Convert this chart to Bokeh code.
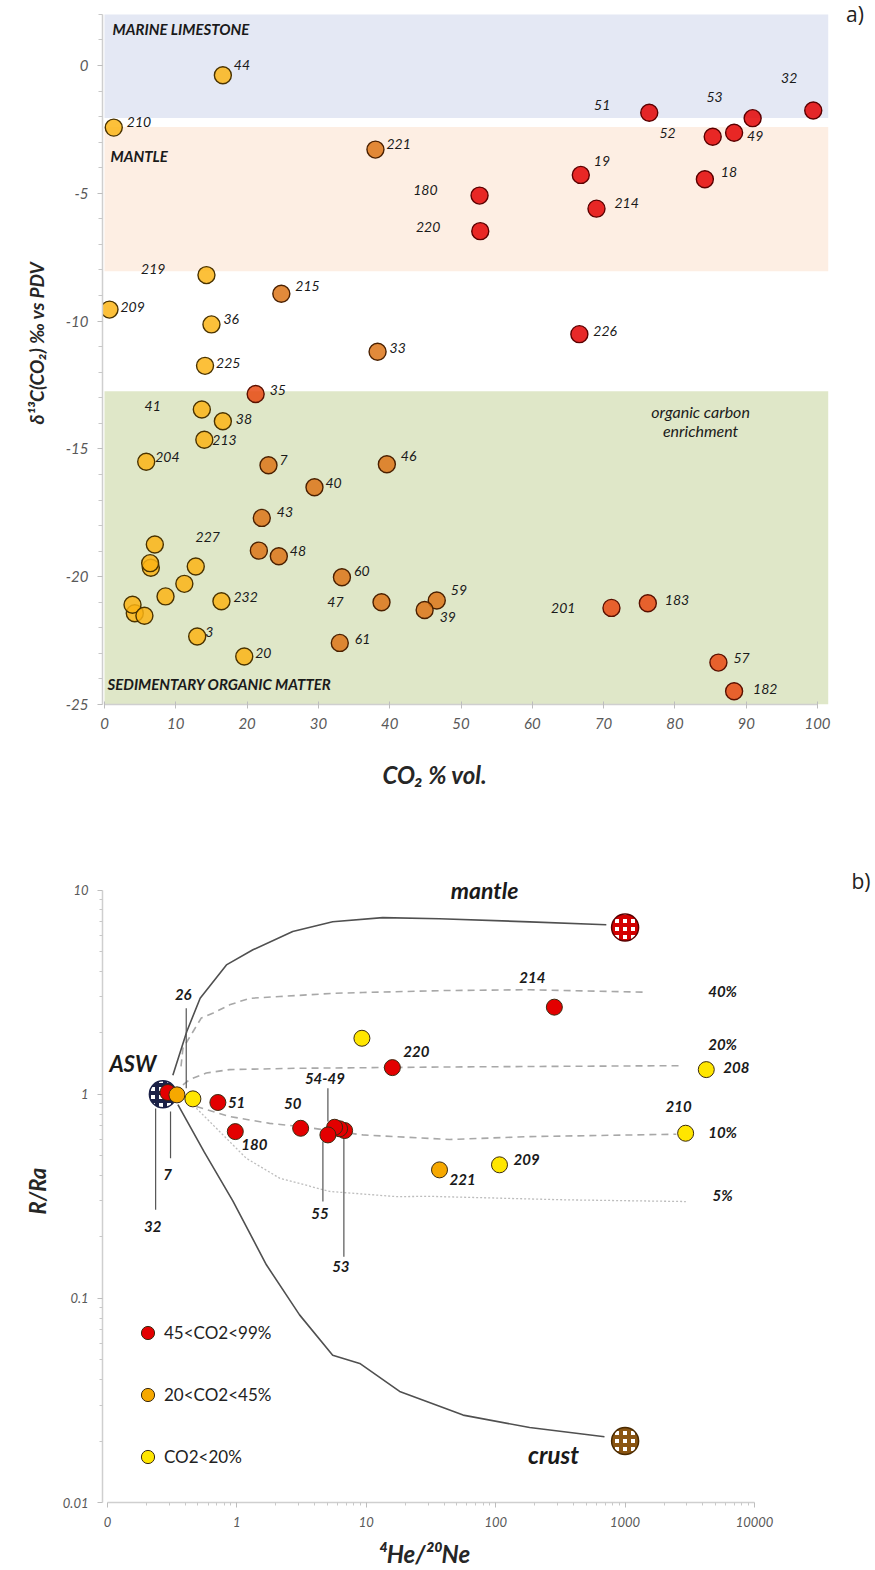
import numpy as np
from bokeh.plotting import figure
from bokeh.layouts import column
from bokeh.models import (ColumnDataSource, Label, FixedTicker, Legend, LegendItem,
                          Range1d, CustomJSTickFormatter, Title)
from bokeh.core.properties import value, field
from bokeh.embed import file_html
from bokeh.resources import INLINE

FONT = "Lato"
NB = "\u00a0"

# ======================= (a) data: d13C vs CO2 =======================
a_ids = ["44", "210", "221", "219", "215", "209", "36", "33", "225",
         "180", "220", "51", "53", "52", "49", "32", "19", "18", "214", "226",
         "35", "41", "38", "213", "204", "7", "46", "40", "43",
         "", "", "", "227", "", "", "", "", "",
         "", "48", "232", "60", "47", "3", "61", "20", "59", "39",
         "201", "183", "57", "182"]
a_co2 = [16.6, 1.3, 38.0, 14.3, 24.8, 0.7, 15.0, 38.3, 14.1,
         52.6, 52.7, 76.4, 90.9, 85.3, 88.3, 99.4, 66.8, 84.2, 69.0, 66.6,
         21.2, 13.65, 16.6, 14.0, 5.85, 23.0, 39.6, 29.45, 22.06,
         7.06, 6.5, 6.4, 12.8, 11.2, 8.56, 4.25, 3.93, 5.6,
         21.65, 24.45, 16.4, 33.3, 38.85, 13.0, 33.0, 19.6, 46.6, 44.9,
         71.1, 76.2, 86.1, 88.3]
a_d13c = [-0.38, -2.43, -3.29, -8.2, -8.93, -9.55, -10.13, -11.2, -11.75,
          -5.09, -6.48, -1.85, -2.06, -2.79, -2.63, -1.76, -4.28, -4.45, -5.6, -10.51,
          -12.85, -13.46, -13.92, -14.64, -15.5, -15.64, -15.6, -16.5, -17.7,
          -18.74, -19.65, -19.47, -19.6, -20.28, -20.77, -21.43, -21.1, -21.53,
          -18.98, -19.2, -20.96, -20.02, -21.0, -22.34, -22.59, -23.12, -20.93, -21.3,
          -21.22, -21.04, -23.36, -24.48]
a_cls = ["y", "y", "o", "y", "o", "y", "y", "o", "y",
         "r", "r", "r", "r", "r", "r", "r", "r", "r", "r", "r",
         "ro", "y", "y", "y", "y", "o", "o", "o", "o",
         "y", "y", "y", "y", "y", "y", "y", "y", "y",
         "o", "o", "y", "o", "o", "y", "o", "y", "o", "o",
         "ro", "ro", "ro", "ro"]

band_names = ["MARINE LIMESTONE", "MANTLE", "SEDIMENTARY ORGANIC MATTER"]
band_bottom = [-2.05, -8.05, -25.0]
band_top = [2.0, -2.41, -12.74]

a_xticks = [0, 10, 20, 30, 40, 50, 60, 70, 80, 90, 100]
a_yticks = [-25, -20, -15, -10, -5, 0]

# ======================= (b) data: R/Ra vs 4He/20Ne =======================
b_ids = ["32", "7", "26", "51", "180", "50", "53", "49", "54", "55",
         "", "220", "221", "209", "214", "210", "208"]
b_hene = [0.293, 0.344, 0.457, 0.713, 0.972, 3.11, 6.8, 6.22, 5.69, 5.05,
          9.25, 15.9, 36.8, 107, 284, 2937, 4240]
b_rra = [1.02, 0.993, 0.949, 0.911, 0.656, 0.681, 0.664, 0.677, 0.689, 0.632,
         1.88, 1.35, 0.426, 0.451, 2.67, 0.644, 1.32]
b_cls = ["r", "o", "y", "r", "r", "r", "r", "r", "r", "r",
         "y", "r", "o", "y", "r", "y", "y"]
class_labels = {"r": "45<CO2<99%", "o": "20<CO2<45%", "y": "CO2<20%"}

end_names = ["ASW", "mantle", "crust"]
end_hene = [0.268, 1000, 1000]
end_rra = [1.0, 6.56, 0.02]

mantle_x = [0.32, 0.41, 0.52, 0.83, 1.33, 2.7, 5.5, 13.4, 36.8, 183, 716]
mantle_y = [1.24, 2.03, 2.95, 4.3, 5.1, 6.27, 7.0, 7.33, 7.24, 6.99, 6.76]
crust_x = [0.35, 0.56, 0.93, 1.69, 3.05, 5.5, 8.9, 18.1, 36.8, 56, 183, 693]
crust_y = [0.89, 0.52, 0.30, 0.146, 0.083, 0.0527, 0.048, 0.035, 0.0296, 0.0268, 0.0233, 0.021]
mix40_x = [0.37, 0.383, 0.53, 0.65, 0.878, 1.25, 2.14, 5.5, 9.4, 40, 183, 1450]
mix40_y = [1.37, 1.68, 2.36, 2.49, 2.74, 2.95, 3.01, 3.12, 3.15, 3.22, 3.25, 3.16]
mix20_x = [0.383, 0.431, 0.58, 0.878, 2.88, 44, 2640]
mix20_y = [1.11, 1.18, 1.27, 1.32, 1.34, 1.36, 1.38]
mix10_x = [0.486, 0.878, 1.79, 3.05, 9.4, 44, 183, 2490]
mix10_y = [0.87, 0.778, 0.72, 0.695, 0.632, 0.6, 0.62, 0.637]
mix5_x = [0.486, 0.735, 1.18, 2.14, 5.2, 17.1, 30.9, 330, 2950]
mix5_y = [0.854, 0.657, 0.486, 0.388, 0.334, 0.315, 0.316, 0.304, 0.298]
mix_labels = ["40%", "20%", "10%", "5%"]
mix_label_y = [3.19, 1.758, 0.652, 0.321]

callout_ids = ["26", "7", "32", "54-49", "55", "53"]
callout_x = [0.406, 0.307, 0.2355, 5.05, 4.62, 6.71]
callout_y_top = [2.64, 0.823, 0.851, 1.07, 0.586, 0.621]
callout_y_bot = [1.07, 0.486, 0.2715, 0.735, 0.298, 0.160]
callout_label_y = [3.07, 0.406, 0.225, 1.198, 0.261, 0.143]

b_xticks = [0.1, 1, 10, 100, 1000, 10000]
b_yticks = [0.01, 0.1, 1, 10]

# ======================= styles / label placement =======================
A_FILL = {"y": "#fbb414", "o": "#dc7415", "r": "#e30000", "ro": "#e8470f"}
A_LINE = {"y": "#4a3300", "o": "#4a2000", "r": "#5a0000", "ro": "#5a1000"}
B_FILL = {"r": "#e30000", "o": "#f6a800", "y": "#ffe600"}
BAND_COLORS = ["#e4e8f4", "#fdeee3", "#dfe7c8"]

A_LABEL_POS = {
    "44": ("left", 11, -10), "210": ("left", 13, -6), "221": ("left", 11, -6),
    "219": ("right", -41, -6), "215": ("left", 14, -8), "209": ("left", 11, -3),
    "36": ("left", 12, -5), "33": ("left", 12, -4), "225": ("left", 11, -3),
    "180": ("right", -42, -6), "220": ("right", -40, -4), "51": ("right", -39, -8),
    "53": ("right", -30, -21), "52": ("right", -37, -4), "49": ("left", 13, 3),
    "32": ("right", -16, -32), "19": ("left", 13, -14), "18": ("left", 16, -7),
    "214": ("left", 18, -6), "226": ("left", 14, -3), "35": ("left", 14, -4),
    "41": ("right", -41, -4), "38": ("left", 13, -2), "213": ("left", 8, 0),
    "204": ("left", 9, -5), "7": ("left", 11, -5), "46": ("left", 14, -8),
    "40": ("left", 11, -4), "43": ("left", 15, -6), "227": ("center", 12, -29),
    "48": ("left", 11, -5), "232": ("left", 12, -4), "60": ("left", 12, -6),
    "47": ("right", -38, 0), "3": ("left", 8, -5), "61": ("left", 15, -4),
    "20": ("left", 11, -3), "59": ("left", 14, -10), "39": ("left", 15, 7),
    "201": ("right", -36, 0), "183": ("left", 17, -3), "57": ("left", 15, -5),
    "182": ("left", 19, -2),
}
B_LABEL_POS = {
    "51": ("left", 10, 0), "180": ("left", 6, 13), "50": ("center", -8, -25),
    "220": ("left", 11, -16), "221": ("left", 10, 10), "209": ("left", 14, -5),
    "214": ("center", -22, -30), "210": ("center", -7, -27), "208": ("left", 17, -2),
}

W = 872


def style_axis(ax, size):
    ax.axis_line_color = "#cfcfcf"
    ax.axis_line_width = 1.5
    ax.major_tick_line_color = "#bdbdbd"
    ax.minor_tick_line_color = "#c8c8c8"
    ax.major_label_text_font = FONT
    ax.major_label_text_font_style = "italic"
    ax.major_label_text_font_size = size
    ax.major_label_text_color = "#595959"
    ax.axis_label_text_font = FONT
    ax.axis_label_text_font_style = "bold italic"
    ax.axis_label_text_font_size = "24px"
    ax.axis_label_text_color = "#262626"


def side_title(text, size, offset, standoff):
    return Title(text=text, align="left", offset=offset, standoff=standoff,
                 text_font=FONT, text_font_style="bold italic", text_font_size=size,
                 text_color="#262626")


# ======================= figure (a) =======================
p1 = figure(width=W, height=808, x_range=Range1d(-0.28, 107.71), y_range=Range1d(-25, 2.543),
            output_backend="svg", toolbar_location=None, title=None,
            min_border_left=102, min_border_right=0, min_border_top=0, min_border_bottom=104)
p1.xgrid.visible = False
p1.ygrid.visible = False
p1.outline_line_color = None

p1.quad(left=0, right=101.5, bottom=band_bottom, top=band_top,
        fill_color=BAND_COLORS, line_color=None)

band_label_pos = [(1.12, 1.41), (0.84, -3.56), (0.42, -24.18)]
for name, (bx, by) in zip(band_names, band_label_pos):
    p1.add_layout(Label(x=bx, y=by, text=name, text_font=FONT, text_font_style="bold italic",
                        text_font_size="15px", text_color="#1a1a1a", text_baseline="middle"))
for t, ty in [("organic carbon", -13.54), ("enrichment", -14.28)]:
    p1.add_layout(Label(x=83.6, y=ty, text=t, text_font=FONT, text_font_style="italic",
                        text_font_size="16px", text_color="#1a1a1a", text_align="center",
                        text_baseline="middle"))

srcA = ColumnDataSource(dict(x=a_co2, y=a_d13c,
                             fill=[A_FILL[c] for c in a_cls],
                             line=[A_LINE[c] for c in a_cls]))
p1.scatter("x", "y", source=srcA, size=17, fill_color="fill", line_color="line",
           line_width=1.4, fill_alpha=0.84)

la = [(i, x, y) for i, x, y in zip(a_ids, a_co2, a_d13c) if i]
srcAL = ColumnDataSource(dict(
    x=[v[1] for v in la], y=[v[2] for v in la], text=[v[0] for v in la],
    align=[A_LABEL_POS[v[0]][0] for v in la],
    dx=[A_LABEL_POS[v[0]][1] for v in la],
    dy=[A_LABEL_POS[v[0]][2] for v in la]))
p1.text(x="x", y="y", text="text", source=srcAL, x_offset="dx", y_offset="dy",
        text_align=field("align"), text_baseline="middle", text_font=value(FONT),
        text_font_style="italic", text_font_size="14px", text_color="#1a1a1a")

p1.add_layout(Label(x=104.0, y=1.45, text="a)", text_font="Open Sans",
                    text_font_size="21px", text_color="#222222"))

p1.xaxis.ticker = FixedTicker(ticks=a_xticks)
p1.yaxis.ticker = FixedTicker(ticks=a_yticks,
                              minor_ticks=[t for t in range(-25, 3) if t % 5 != 0])
p1.xaxis.formatter = CustomJSTickFormatter(code="return String(tick);")
p1.yaxis.formatter = CustomJSTickFormatter(code="return String(tick);")
p1.xaxis.bounds = (0, 100)
p1.yaxis.bounds = (-25, 2)
style_axis(p1.xaxis[0], "15px")
style_axis(p1.yaxis[0], "15px")
p1.xaxis.major_tick_in = 3
p1.xaxis.major_tick_out = 4
p1.xaxis.minor_tick_out = 0
p1.xaxis.minor_tick_in = 0
p1.xaxis.major_label_standoff = 9
p1.yaxis.major_tick_in = 0
p1.yaxis.major_tick_out = 5
p1.yaxis.minor_tick_out = 4
p1.yaxis.minor_tick_in = 0
p1.yaxis.major_label_standoff = 9
p1.xaxis.axis_label = "CO₂ % vol." + NB * 20
p1.xaxis.axis_label_standoff = 28
p1.add_layout(side_title("δ¹³C(CO₂) ‰ vs PDV", "19px", 280, 30), "left")

# ======================= figure (b) =======================
p2 = figure(width=W, height=762, x_axis_type="log", y_axis_type="log",
            x_range=Range1d(0.0915, 81650), y_range=Range1d(0.01, 25.1),
            output_backend="svg", toolbar_location=None, title=None,
            min_border_left=102, min_border_right=0, min_border_top=0, min_border_bottom=68)
p2.xgrid.visible = False
p2.ygrid.visible = False
p2.outline_line_color = None

p2.line(mix5_x, mix5_y, line_color="#bdbdbd", line_width=1.3, line_dash="2 2")
for mx, my in [(mix40_x, mix40_y), (mix20_x, mix20_y), (mix10_x, mix10_y)]:
    p2.line(mx, my, line_color="#a8a8a8", line_width=1.6, line_dash="7 5")
p2.line(mantle_x, mantle_y, line_color="#505050", line_width=1.6)
p2.line(crust_x, crust_y, line_color="#505050", line_width=1.6)

p2.segment(x0=callout_x, y0=callout_y_top, x1=callout_x, y1=callout_y_bot,
           line_color="#555555", line_width=1.2)

srcE = ColumnDataSource(dict(x=end_hene, y=end_rra,
                             line=["#1b2147", "#5a0000", "#4a2a00"],
                             hatch=["#1b2147", "#d40000", "#8a5512"]))
p2.scatter("x", "y", source=srcE, size=27, fill_color="white", line_color="line",
           line_width=1.5, hatch_pattern="+", hatch_color="hatch", hatch_scale=8,
           hatch_weight=4)

rend = {}
for c in ["r", "o", "y"]:
    idx = [i for i, k in enumerate(b_cls) if k == c]
    src = ColumnDataSource(dict(x=[b_hene[i] for i in idx], y=[b_rra[i] for i in idx]))
    rend[c] = p2.scatter("x", "y", source=src, size=16, fill_color=B_FILL[c],
                         line_color="#3a2a10", line_width=1)

lb = [(i, x, y) for i, x, y in zip(b_ids, b_hene, b_rra) if i in B_LABEL_POS]
srcBL = ColumnDataSource(dict(
    x=[v[1] for v in lb], y=[v[2] for v in lb], text=[v[0] for v in lb],
    align=[B_LABEL_POS[v[0]][0] for v in lb],
    dx=[B_LABEL_POS[v[0]][1] for v in lb],
    dy=[B_LABEL_POS[v[0]][2] for v in lb]))
BTXT = dict(text_font=value(FONT), text_font_style="bold italic", text_font_size="15px",
            text_color="#1a1a1a", text_baseline="middle")
p2.text(x="x", y="y", text="text", source=srcBL, x_offset="dx", y_offset="dy",
        text_align=field("align"), **BTXT)
p2.text(x=callout_x, y=callout_label_y, text=callout_ids, x_offset=-3,
        text_align="center", **BTXT)

for t, ty in zip(mix_labels, mix_label_y):
    p2.add_layout(Label(x=5670, y=ty, text=t, text_font=FONT, text_font_style="bold italic",
                        text_font_size="15px", text_color="#1a1a1a", text_align="center",
                        text_baseline="middle"))
end_label_pos = {"ASW": (0.157, 1.42, "22px"), "mantle": (82, 10.03, "23px"),
                 "crust": (280, 0.0172, "24px")}
for n in end_names:
    lx, ly, fs = end_label_pos[n]
    p2.add_layout(Label(x=lx, y=ly, text=n, text_font=FONT, text_font_style="bold italic",
                        text_font_size=fs, text_color="#1a1a1a", text_align="center",
                        text_baseline="middle"))
p2.add_layout(Label(x=56200, y=9.5, text="b)", text_font="Open Sans",
                    text_font_size="21px", text_color="#222222"))

leg = Legend(items=[LegendItem(label=class_labels[c], renderers=[rend[c]]) for c in ["r", "o", "y"]],
             location=(29, 29), orientation="vertical", padding=0, margin=0, spacing=29,
             glyph_width=33, glyph_height=33, label_standoff=-6,
             label_text_font=FONT, label_text_font_size="17px", label_text_color="#222222",
             background_fill_alpha=0, border_line_alpha=0)
p2.add_layout(leg)

minor_x = [m * 10.0 ** e for e in range(-1, 4) for m in range(2, 10)]
minor_y = [m * 10.0 ** e for e in range(-2, 1) for m in range(2, 10)]
p2.xaxis.ticker = FixedTicker(ticks=b_xticks, minor_ticks=minor_x)
p2.yaxis.ticker = FixedTicker(ticks=b_yticks, minor_ticks=minor_y)
p2.xaxis.formatter = CustomJSTickFormatter(code="return tick < 0.5 ? '0' : String(Math.round(tick));")
p2.yaxis.formatter = CustomJSTickFormatter(code="return tick >= 1 ? String(Math.round(tick)) : String(parseFloat(tick.toPrecision(2)));")
p2.xaxis.bounds = (0.1, 10000)
p2.yaxis.bounds = (0.01, 10)
style_axis(p2.xaxis[0], "13px")
style_axis(p2.yaxis[0], "13px")
for ax in (p2.xaxis[0], p2.yaxis[0]):
    ax.major_tick_in = 0
    ax.major_tick_out = 5
    ax.minor_tick_in = 0
    ax.minor_tick_out = 3
    ax.major_label_standoff = 9
p2.xaxis.axis_label = "⁴He/²⁰Ne" + NB * 24
p2.xaxis.axis_label_standoff = 9
p2.add_layout(side_title("R/Ra", "22px", 288, 18), "left")

layout = column(p1, p2, spacing=0)
open("out.html", "w").write(file_html(layout, INLINE))
